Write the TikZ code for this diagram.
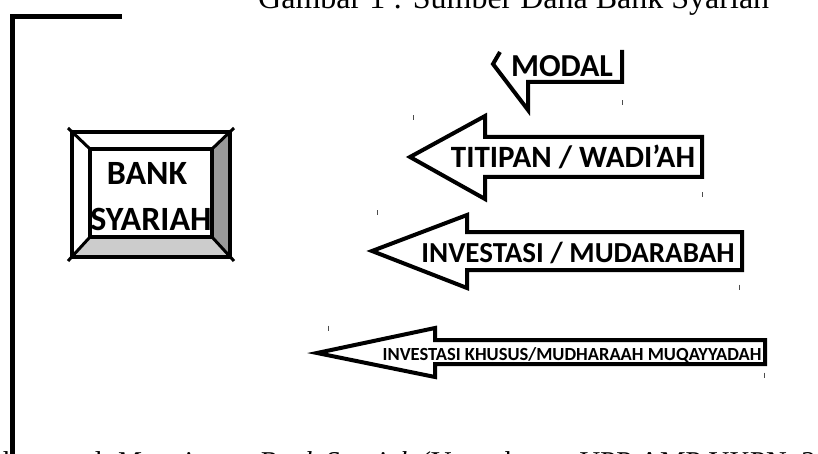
\documentclass[tikz,border=0pt]{standalone}
\usepackage{fontspec}
\setmainfont{Liberation Serif}
\newfontfamily\carlito{Carlito}

\begin{document}
\begin{tikzpicture}[x=1pt,y=-1pt,
  outline/.style={line width=4pt,line join=miter},
  lbl/.style={font=\carlito\bfseries,inner sep=0pt,anchor=base},
  handle/.style={line width=1pt,black!70}]
  \useasboundingbox (0,0) rectangle (818,454);
  \clip (0,0) rectangle (818,454);

  %caption, cut at the top of the page
  \node[anchor=base west,inner sep=0pt,font=\fontsize{32}{32}\selectfont] (title) at (258,9) {Gambar 1 : Sumber Dana Bank Syariah};

  %frame corner
  \draw[line width=5pt] (122,17) -- (12.5,17) -- (12.5,470);

  %bank box, bevelled
  \fill[black!40] (230,132) -- (230,257) -- (212,237) -- (212,149) -- cycle;
  \fill[black!20] (72,257) -- (230,257) -- (212,237) -- (90,237) -- cycle;
  \draw[outline] (72,132) rectangle (230,257);
  \draw[outline] (90,149) rectangle (212,237);
  \draw[line width=3pt] (68,128) -- (90,149);
  \draw[line width=3pt] (234,128) -- (212,149);
  \draw[line width=3pt] (68,261) -- (90,237);
  \draw[line width=3pt] (234,261) -- (212,237);
  \node[lbl,font=\carlito\bfseries\fontsize{34}{34}\selectfont] (bank) at (147,185) {BANK};
  \node[lbl,font=\carlito\bfseries\fontsize{34}{34}\selectfont] (syariah) at (151,230) {SYARIAH};

  %modal, only the lower part shows
  \draw[outline] (500,52) -- (493,64) -- (528,110) -- (528,82) -- (622,82) -- (622,50);
  \node[lbl,font=\carlito\bfseries\fontsize{32}{32}\selectfont] (modal) at (562,77) {MODAL};

  %titipan
  \draw[outline] (410,157) -- (485,116) -- (485,137) -- (702,137) -- (702,177) -- (485,177) -- (485,199) -- cycle;
  \node[lbl,font=\carlito\bfseries\fontsize{31}{31}\selectfont] (titipan) at (573,168) {TITIPAN / WADI’AH};

  %investasi
  \draw[outline] (372,251) -- (467,215) -- (467,232) -- (742,232) -- (742,270) -- (467,270) -- (467,288) -- cycle;
  \node[lbl,font=\carlito\bfseries\fontsize{29}{29}\selectfont] (investasi) at (578,262) {INVESTASI / MUDARABAH};

  %investasi khusus
  \draw[outline] (317,353) -- (435,328) -- (435,340) -- (765,340) -- (765,364) -- (435,364) -- (435,377) -- cycle;
  \node[lbl,font=\carlito\bfseries\fontsize{18.5}{18.5}\selectfont] (khusus) at (572,360) {INVESTASI KHUSUS/MUDHARAAH MUQAYYADAH};

  %selection handles
  \foreach \hx/\hy in {413/118, 622/103, 702/195, 377/213, 739/287, 328/328, 764/375}
    \draw[handle] (\hx,\hy-2.5) -- (\hx,\hy+2.5);

  %source line, cut at the bottom of the page
  \node[anchor=base west,inner sep=0pt,font=\fontsize{28.7}{28.7}\selectfont] (source) at (-37,471) {Muhammad, \textit{Manajemen Bank Syariah} (Yogyakarta: UPP AMP YKPN, 2005)};
\end{tikzpicture}
\end{document}
